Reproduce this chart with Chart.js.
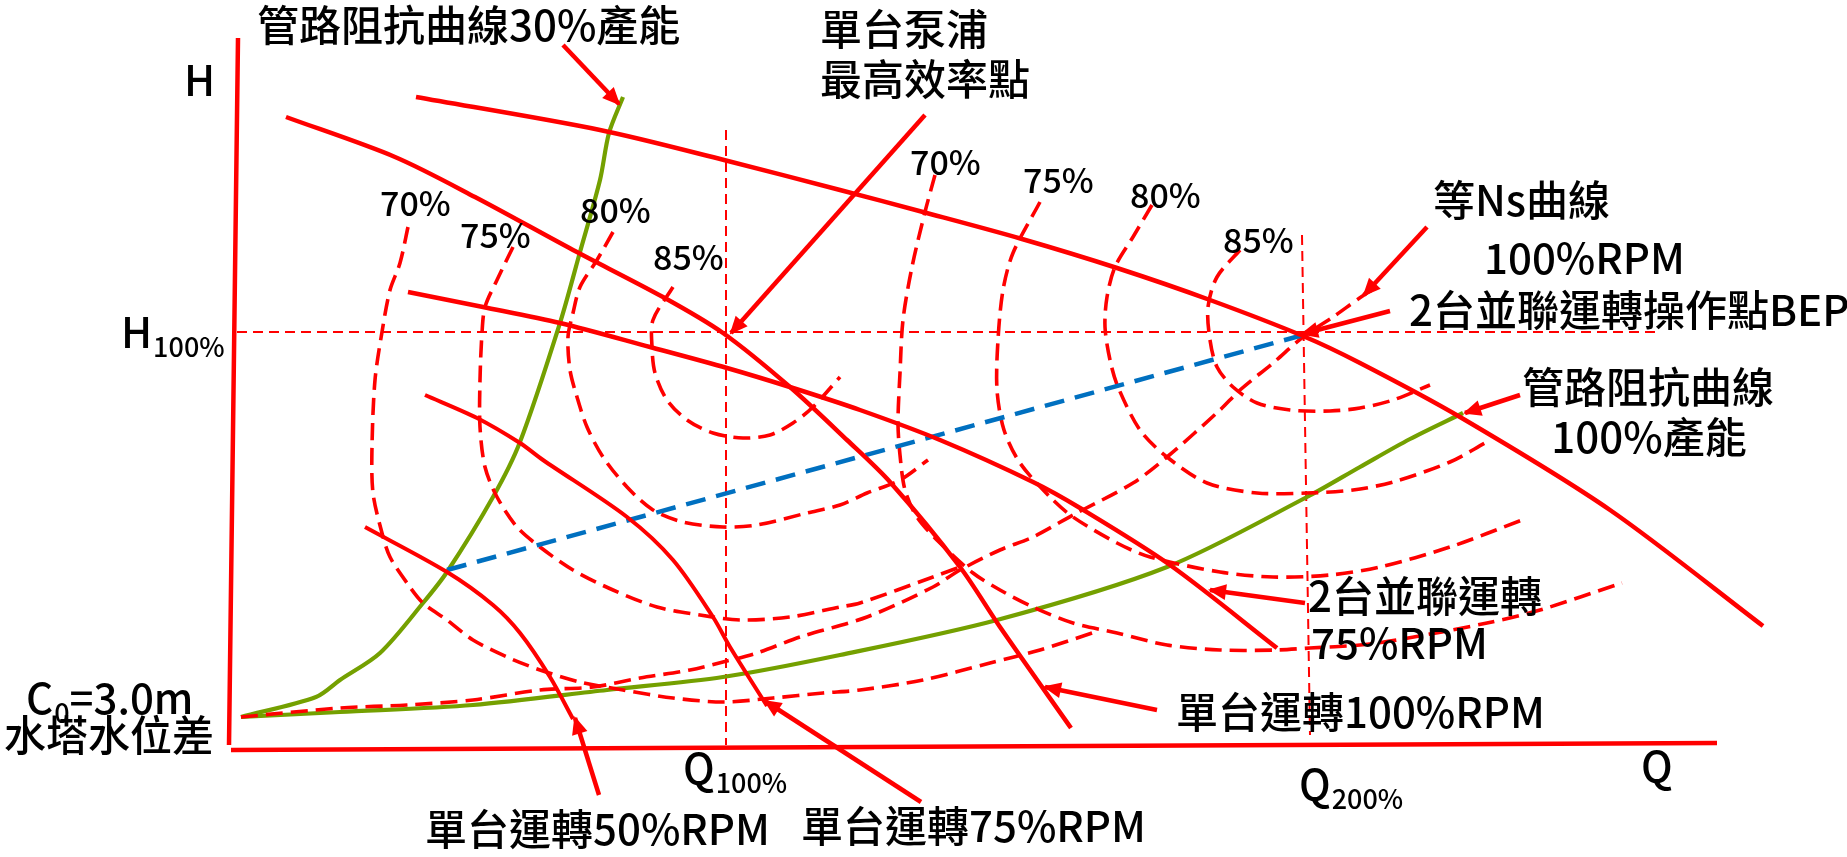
<!DOCTYPE html>
<html>
<head>
<meta charset="utf-8">
<title>並聯泵浦運轉特性曲線</title>
<script src="https://cdn.jsdelivr.net/npm/chart.js@4.4.1/dist/chart.umd.min.js"></script>
<style>
  html, body { margin: 0; padding: 0; background: #fff; }
  #wrap { width: 1847px; height: 857px; }
</style>
</head>
<body>
<div id="wrap"><canvas id="pumpChart" width="1847" height="857"></canvas></div>
<script>
// Drawing units: Q (flow) to the right, H (head) upward, origin at the axis corner
const Q_MIN = -231, Q_MAX = 1616;
const H_MIN = -107, H_MAX = 750;

const RED = '#ff0000';
const GREEN = '#74a000';
const BLUE = '#0070c0';
const FONT = '"Noto Sans CJK TC", "Noto Sans", sans-serif';

// axes
const axisH = [[7, 712], [-2, 5]];
const axisQ = [[0, 0], [1486, 7]];

// reference lines H100%, Q100%, Q200%
const refH100 = [[6, 418], [1424, 418]];
const refQ100 = [[495, 620], [495, 5]];
const refQ200 = [[1071, 515], [1079, 15]];

// pump curves
const single100 = [[55, 633], [164, 593], [244, 553], [342, 500], [432, 453], [492, 417],
  [559, 363], [616, 310], [659, 268], [729, 183], [769, 123], [840, 22]];
const single75 = [[194, 355], [246, 332], [289, 307], [312, 290], [396, 233], [442, 190], [482, 133],
  [499, 103], [536, 44]];
const single50 = [[134, 223], [216, 178], [262, 145], [289, 117], [319, 73], [342, 31]];
const parallel100 = [[185, 653], [369, 620], [493, 590], [609, 560], [692, 538], [791, 511], [886, 482],
  [979, 450], [1072, 414], [1129, 387], [1229, 333], [1379, 240], [1532, 124]];
const parallel75 = [[177, 458], [252, 443], [329, 427], [419, 403], [496, 382], [562, 362], [629, 340],
  [709, 310], [802, 268], [849, 242], [939, 185], [1046, 102]];

// system resistance curves
const system30 = [[10, 33], [85, 53], [109, 70], [149, 97], [192, 147], [216, 178], [262, 253],
  [289, 308], [329, 427], [349, 498], [369, 570], [378, 617], [392, 653]];
const system100 = [[10, 33], [109, 38], [242, 45], [376, 60], [492, 73], [609, 95], [766, 130],
  [936, 183], [1076, 253], [1129, 283], [1179, 311], [1232, 337]];

// operating line between the two BEPs
const bepLine = [[216, 180], [1072, 415]];

// equal Ns curve
const nsCurve = [[10, 33], [109, 42], [176, 45], [242, 50], [309, 60], [362, 63], [409, 72], [459, 80],
  [492, 88], [526, 97], [569, 113], [636, 133], [702, 163], [729, 180], [769, 200], [802, 213],
  [842, 235], [902, 267], [936, 293], [989, 340], [1009, 360], [1042, 387], [1072, 413], [1102, 433],
  [1133, 455], [1147, 463]];

// efficiency curves, single pump
const effSingle70 = [[177, 523], [169, 487], [159, 460], [151, 418], [144, 370], [141, 303], [142, 257],
  [151, 217], [159, 193], [176, 167], [192, 147], [216, 130], [242, 110], [276, 93], [309, 80],
  [349, 68], [392, 60], [442, 52], [492, 48], [542, 52], [592, 57], [629, 60], [692, 70], [759, 87],
  [809, 100], [867, 119]];
const effSingle75 = [[282, 503], [266, 470], [254, 443], [251, 417], [249, 370], [249, 323], [254, 283],
  [266, 253], [286, 223], [309, 203], [342, 180], [382, 160], [426, 143], [469, 135], [509, 130],
  [559, 133], [609, 143], [629, 147], [702, 173], [729, 183]];
const effSingle80 = [[382, 518], [366, 490], [349, 463], [342, 437], [337, 413], [339, 380], [346, 353],
  [356, 323], [372, 293], [396, 263], [422, 240], [452, 228], [492, 223], [526, 225], [576, 237],
  [609, 245], [636, 257], [669, 270], [697, 290]];
const effSingle85 = [[442, 463], [422, 430], [421, 403], [424, 377], [436, 350], [456, 330], [482, 317],
  [512, 312], [539, 315], [562, 327], [582, 343], [609, 373]];

// efficiency curves, two pumps in parallel
const effParallel70 = [[704, 575], [694, 538], [681, 483], [672, 430], [669, 377], [667, 327], [669, 295],
  [674, 260], [686, 233], [709, 207], [742, 177], [769, 160], [802, 143], [842, 127], [886, 117],
  [936, 105], [989, 100], [1046, 100], [1079, 102], [1129, 105], [1166, 110], [1256, 127], [1309, 140],
  [1391, 167]];
const effParallel75 = [[809, 548], [782, 497], [772, 460], [767, 410], [766, 360], [773, 320], [789, 287],
  [819, 253], [842, 233], [886, 207], [919, 193], [989, 178], [1042, 173], [1099, 175], [1149, 183],
  [1219, 203], [1291, 230]];
const effParallel80 = [[921, 545], [902, 513], [884, 483], [876, 453], [874, 423], [879, 390], [887, 363],
  [909, 320], [936, 293], [976, 267], [1026, 257], [1076, 257], [1122, 260], [1162, 268], [1219, 288],
  [1254, 307]];
const effParallel85 = [[1009, 500], [986, 473], [977, 443], [979, 410], [986, 383], [1002, 363],
  [1026, 347], [1059, 340], [1099, 339], [1129, 342], [1162, 350], [1199, 365]];

// callout arrows: [start, tip]
const arrowSystem30 = [[332, 705], [388, 646]];
const arrowSingleBep = [[694, 635], [500, 417]];
const arrowNs = [[1196, 523], [1133, 455]];
const arrowParallelBep = [[1159, 439], [1071, 416]];
const arrowSystem100 = [[1289, 355], [1234, 337]];
const arrowParallel75 = [[1074, 147], [979, 160]];
const arrowSingle100 = [[926, 40], [814, 63]];
const arrowSingle75 = [[690, -52], [534, 49]];
const arrowSingle50 = [[368, -45], [344, 32]];

// text placed in Q/H units (left edge unless centred)
const labels = [
  { text: '管路阻抗曲線30%產能', q: 26, h: 725 },
  { text: '單台泵浦', q: 589, h: 721 },
  { text: '最高效率點', q: 589, h: 671 },
  { text: '等Ns曲線', q: 1202, h: 550 },
  { text: '100%RPM', q: 1253, h: 492 },
  { text: '2台並聯運轉操作點BEP', q: 1178, h: 440 },
  { text: '管路阻抗曲線', q: 1417, h: 363, align: 'center' },
  { text: '100%產能', q: 1418, h: 313, align: 'center' },
  { text: '2台並聯運轉', q: 1077, h: 154 },
  { text: '75%RPM', q: 1080, h: 107 },
  { text: '單台運轉100%RPM', q: 945, h: 38 },
  { text: '單台運轉50%RPM', q: 194, h: -79 },
  { text: '單台運轉75%RPM', q: 570, h: -76 },
  { text: 'C', sub: '0', tail: '=3.0m', q: -205, h: 52 },
  { text: '水塔水位差', q: -227, h: 15 },
  { text: 'H', q: -47, h: 670 },
  { text: 'H', sub: '100%', q: -110, h: 418 },
  { text: 'Q', sub: '100%', q: 452, h: -18 },
  { text: 'Q', sub: '200%', q: 1068, h: -34 },
  { text: 'Q', q: 1410, h: -16 },
  { text: '70%', q: 149, h: 547, size: 34 },
  { text: '75%', q: 229, h: 515, size: 34 },
  { text: '80%', q: 349, h: 540, size: 34 },
  { text: '85%', q: 422, h: 493, size: 34 },
  { text: '70%', q: 679, h: 588, size: 34 },
  { text: '75%', q: 792, h: 570, size: 34 },
  { text: '80%', q: 899, h: 555, size: 34 },
  { text: '85%', q: 992, h: 510, size: 34 },
];

function toXY(points) {
  return points.map(([q, h]) => ({ x: q, y: h }));
}

function line(points, color, width, dash, extra) {
  return Object.assign({
    data: toXY(points),
    showLine: true,
    borderColor: color,
    borderWidth: width,
    borderDash: dash || [],
    pointRadius: 0,
    pointHoverRadius: 0,
    tension: 0.3,
    fill: false,
  }, extra || {});
}

const DASH = [17, 8];
const THIN_DASH = [10, 6];

// first dataset is painted last (on top)
const datasets = [
  line(axisH, RED, 4.5),
  line(axisQ, RED, 4.5),
  ...[arrowSystem30, arrowSingleBep, arrowNs, arrowParallelBep, arrowSystem100,
    arrowParallel75, arrowSingle100, arrowSingle75, arrowSingle50]
    .map(a => line(a, RED, 4.5, null, { arrow: true, tension: 0 })),
  line(single100, RED, 4.5),
  line(parallel100, RED, 4.5),
  line(parallel75, RED, 4.5),
  line(single75, RED, 4),
  line(single50, RED, 4),
  line(bepLine, BLUE, 4.5, [20, 11], { tension: 0 }),
  line(effSingle70, RED, 3.6, DASH),
  line(effSingle75, RED, 3.6, DASH),
  line(effSingle80, RED, 3.6, DASH),
  line(effSingle85, RED, 3.6, DASH),
  line(effParallel70, RED, 3.6, DASH),
  line(effParallel75, RED, 3.6, DASH),
  line(effParallel80, RED, 3.6, DASH),
  line(effParallel85, RED, 3.6, DASH),
  line(nsCurve, RED, 3.6, DASH),
  line(system30, GREEN, 4.2),
  line(system100, GREEN, 4.2),
  line(refH100, RED, 2, THIN_DASH, { tension: 0 }),
  line(refQ100, RED, 2, THIN_DASH, { tension: 0 }),
  line(refQ200, RED, 2, THIN_DASH, { tension: 0 }),
];

// arrowheads on callouts, then all text
const annotate = {
  id: 'annotate',
  afterDatasetsDraw(chart) {
    const { ctx } = chart;
    const xs = chart.scales.x, ys = chart.scales.y;

    chart.data.datasets.forEach((ds, i) => {
      if (!ds.arrow) return;
      const pts = chart.getDatasetMeta(i).data;
      const tip = pts[pts.length - 1];
      const from = pts[pts.length - 2];
      const ang = Math.atan2(tip.y - from.y, tip.x - from.x);
      ctx.save();
      ctx.translate(tip.x, tip.y);
      ctx.rotate(ang);
      ctx.beginPath();
      ctx.moveTo(2, 0);
      ctx.lineTo(-16, -8);
      ctx.lineTo(-16, 8);
      ctx.closePath();
      ctx.fillStyle = RED;
      ctx.fill();
      ctx.restore();
    });

    ctx.save();
    ctx.fillStyle = '#000';
    ctx.textBaseline = 'middle';
    labels.forEach(lb => {
      const px = xs.getPixelForValue(lb.q);
      const py = ys.getPixelForValue(lb.h);
      const size = lb.size || 42;
      ctx.font = `500 ${size}px ${FONT}`;
      ctx.textAlign = lb.align || 'left';
      ctx.fillText(lb.text, px, py);
      if (lb.sub) {
        let cx = px + ctx.measureText(lb.text).width + 1;
        ctx.font = `500 27px ${FONT}`;
        ctx.fillText(lb.sub, cx, py + 15);
        cx += ctx.measureText(lb.sub).width;
        if (lb.tail) {
          ctx.font = `500 ${size}px ${FONT}`;
          ctx.fillText(lb.tail, cx, py);
        }
      }
    });
    ctx.restore();
  }
};

new Chart(document.getElementById('pumpChart'), {
  type: 'scatter',
  data: { datasets },
  options: {
    responsive: false,
    animation: false,
    events: [],
    layout: { padding: 0 },
    plugins: {
      legend: { display: false },
      tooltip: { enabled: false },
    },
    scales: {
      x: { type: 'linear', display: false, min: Q_MIN, max: Q_MAX },
      y: { type: 'linear', display: false, min: H_MIN, max: H_MAX },
    },
  },
  plugins: [annotate],
});
</script>
</body>
</html>
